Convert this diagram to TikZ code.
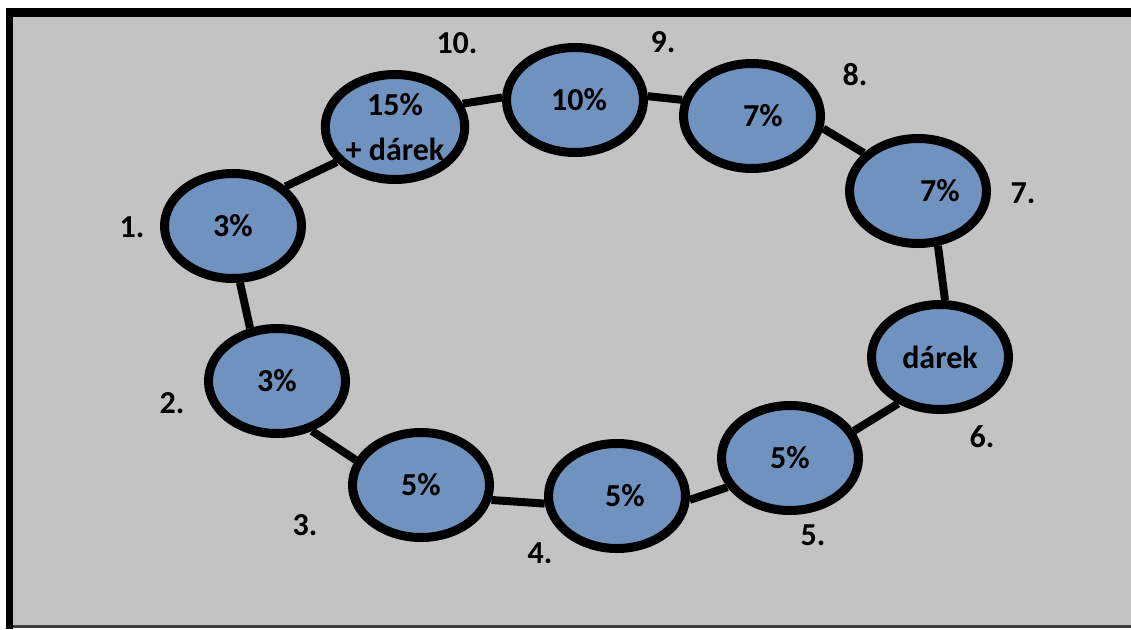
\documentclass[tikz,border=0pt]{standalone}
\usepackage{fontspec}
\setmainfont{Carlito}
\usetikzlibrary{shapes.geometric}
\definecolor{bggrey}{RGB}{195,195,195}
\definecolor{bubble}{RGB}{112,146,190}
\definecolor{edgegrey}{RGB}{60,60,60}
\begin{document}
\begin{tikzpicture}[x=1pt,y=-1pt,
  bub/.style={ellipse, draw=black, line width=9pt, fill=bubble,
    minimum width=137pt, minimum height=105pt, inner sep=0pt,
    font=\fontsize{32}{45}\selectfont\bfseries, align=center},
  num/.style={font=\fontsize{32}{38}\selectfont\bfseries, inner sep=0pt},
  link/.style={line width=8pt}]
\useasboundingbox (0,0) rectangle (1131,629);
% frame and background
\fill[white] (0,0) rectangle (1131,629);
\fill[black] (6,8) rectangle (1131,17);
\fill[black] (6,8) rectangle (13,629);
\fill[bggrey] (13,17) rectangle (1131,625);
\fill[edgegrey] (13,625) rectangle (1131,628);
% bubbles
\node[bub] (n1) at (233,226) {3\%};
\node[bub] (n2) at (277,381) {3\%};
\node[bub] (n3) at (421,485) {5\%};
\node[bub] (n4) at (617,496) {\hspace*{16pt}5\%};
\node[bub] (n5) at (790,458) {5\%};
\node[bub] (n6) at (940,357) {dárek};
\node[bub] (n7) at (918,191) {\hspace*{44pt}7\%};
\node[bub] (n8) at (752,116) {\hspace*{22pt}7\%};
\node[bub] (n9) at (575,100) {\hspace*{8pt}10\%};
\node[bub] (n10) at (395,127) {15\%\\+ dárek};
% connectors
\draw[link] (n1.37) -- (n10.211);
\draw[link] (n1.-83) -- (n2.117);
\draw[link] (n2.-55) -- (n3.159);
\draw[link] (n3.-12) -- (n4.186);
\draw[link] (n4.-3) -- (n5.205);
\draw[link] (n5.23) -- (n6.228);
\draw[link] (n6.85) -- (n7.-70);
\draw[link] (n7.145) -- (n8.-10);
\draw[link] (n8.167) -- (n9.3);
\draw[link] (n9.178) -- (n10.19);
% numbers
\node[num] (l1) at (132,227) {1.};
\node[num] (l2) at (172,403) {2.};
\node[num] (l3) at (305,525) {3.};
\node[num] (l4) at (540,553) {4.};
\node[num] (l5) at (813,535) {5.};
\node[num] (l6) at (982,437) {6.};
\node[num] (l7) at (1023,193) {7.};
\node[num] (l8) at (855,75) {8.};
\node[num] (l9) at (663,42) {9.};
\node[num] (l10) at (457,43) {10.};
\end{tikzpicture}
\end{document}
